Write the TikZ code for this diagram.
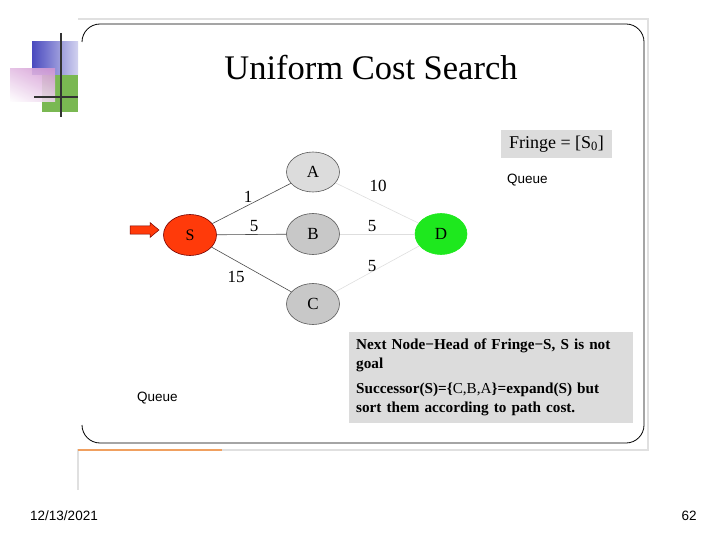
\documentclass[tikz,border=0pt]{standalone}
\usepackage{fontspec}
\setmainfont{Liberation Serif}
\setsansfont{Liberation Sans}
\usepackage{xcolor}
\usetikzlibrary{shapes.geometric, arrows.meta, calc, shadings}
\definecolor{rossoS}{HTML}{FF3A0A}
\definecolor{verdeD}{HTML}{1EE81E}
\definecolor{grigioA}{HTML}{DCDCDC}
\definecolor{grigioB}{HTML}{C8C8C8}
\definecolor{scatola}{HTML}{DCDCDC}
\definecolor{logoBlu}{HTML}{4A4ABF}
\definecolor{logoVerde}{HTML}{7AB852}
\definecolor{logoRosa}{HTML}{D296D2}
\definecolor{arancio}{HTML}{F0A060}

\begin{document}
\begin{tikzpicture}[x = 1pt, y = -1pt,
    nodo/.style = {ellipse, draw = black!65, line width = 0.6pt, minimum width = 53pt, minimum height = 41pt, inner sep = 0pt, font = \fontsize{17}{17}\selectfont},
    peso/.style = {font = \fontsize{17}{17}\selectfont, inner sep = 0pt},
    arcoS/.style = {draw = black!70, line width = 0.6pt},
    arcoD/.style = {draw = black!13, line width = 0.6pt},
    coda/.style = {font = \sffamily\fontsize{13.5}{14}\selectfont, inner sep = 0pt}]
    % Parametri
    \pgfmathsetmacro{\xa}{313}
    \pgfmathsetmacro{\xd}{441}
    \useasboundingbox (0,0) rectangle (720,540);
    % Cornice
    \draw[black!12, line width = 1.2pt] (78,19) -- (648,19) -- (648,450) -- (78,450) -- (78,490);
    \draw[arancio, line width = 1.2pt] (78,450) -- (222,450);
    \draw[black, line width = 0.8pt, rounded corners = 18pt] (82,42) -- (82,24) -- (644,24) -- (644,443) -- (82,443) -- (82,425);
    % Logo
    \shade[left color = logoBlu, right color = logoBlu!25] (32,42) rectangle (78,75);
    \fill[logoVerde] (42,75) rectangle (78,112);
    \shade[lower left = white, upper right = logoRosa, lower right = logoRosa!40, upper left = logoRosa!60, opacity = 0.9] (10,69) rectangle (55,102);
    \draw[black!80, line width = 2.6pt] (61,33) -- (61,117);
    \draw[black!80, line width = 2.6pt] (34,97) -- (78,97);
    % Titolo
    \node[anchor = base, font = \fontsize{34.5}{36}\selectfont] (titolo) at (371,80) {Uniform Cost Search};
    % Nodi
    \node[nodo, fill = rossoS, draw = red!45!black, font = \fontsize{16}{16}\selectfont] (S) at (190,235) {S};
    \node[nodo, fill = grigioA, minimum height = 40pt] (A) at (\xa,172) {A};
    \node[nodo, fill = grigioB] (B) at (\xa,234) {B};
    \node[nodo, fill = grigioB] (C) at (\xa,304) {C};
    \node[nodo, fill = verdeD, draw = verdeD, minimum width = 52pt] (D) at (\xd,234) {D};
    % Archi
    \draw[arcoS] (S) -- (A);
    \draw[arcoS] (S) -- (B);
    \draw[arcoS] (S) -- (C);
    \draw[arcoD] (A) -- (D);
    \draw[arcoD] (B) -- (D);
    \draw[arcoD] (C) -- (D);
    % Pesi
    \node[peso] (pSA) at (248,197) {1};
    \node[peso] (pSB) at (254,226) {5};
    \node[peso] (pSC) at (236,277) {15};
    \node[peso] (pAD) at (378,186) {10};
    \node[peso] (pBD) at (372,226) {5};
    \node[peso] (pCD) at (372,266) {5};
    % Freccia
    \coordinate (inizio) at (130,230);
    \filldraw[fill = rossoS, draw = red!45!black, line width = 0.5pt] (inizio) ++(0,-4) -- ++(20,0) -- ++(0,-3.5) -- (159,230) -- (150,237.5) -- ++(0,-3.5) -- (130,234) -- cycle;
    % Fringe
    \node[fill = scatola, minimum width = 111pt, minimum height = 28pt, font = \fontsize{18}{18}\selectfont] (fringe) at (556.5,144) {Fringe = [S\textsubscript{0}]};
    \node[coda, anchor = west] (coda1) at (507,180) {Queue};
    \node[coda, anchor = west] (coda2) at (137,398) {Queue};
    % Spiegazione
    \node[fill = scatola, anchor = north west, minimum width = 284pt, minimum height = 91pt, text width = 270pt, inner sep = 7pt, align = left, font = \bfseries\fontsize{15.2}{19}\selectfont] (spiega) at (349,332) {Next Node−Head of Fringe−S, S is not\\goal\\[6pt]Successor(S)=\{\textmd{C,B,A}\}=expand(S) but\\sort them according to path cost.};
    % Piede
    \node[coda] (data) at (64,516) {12/13/2021};
    \node[coda] (pagina) at (689,516) {62};
\end{tikzpicture}
\end{document}
